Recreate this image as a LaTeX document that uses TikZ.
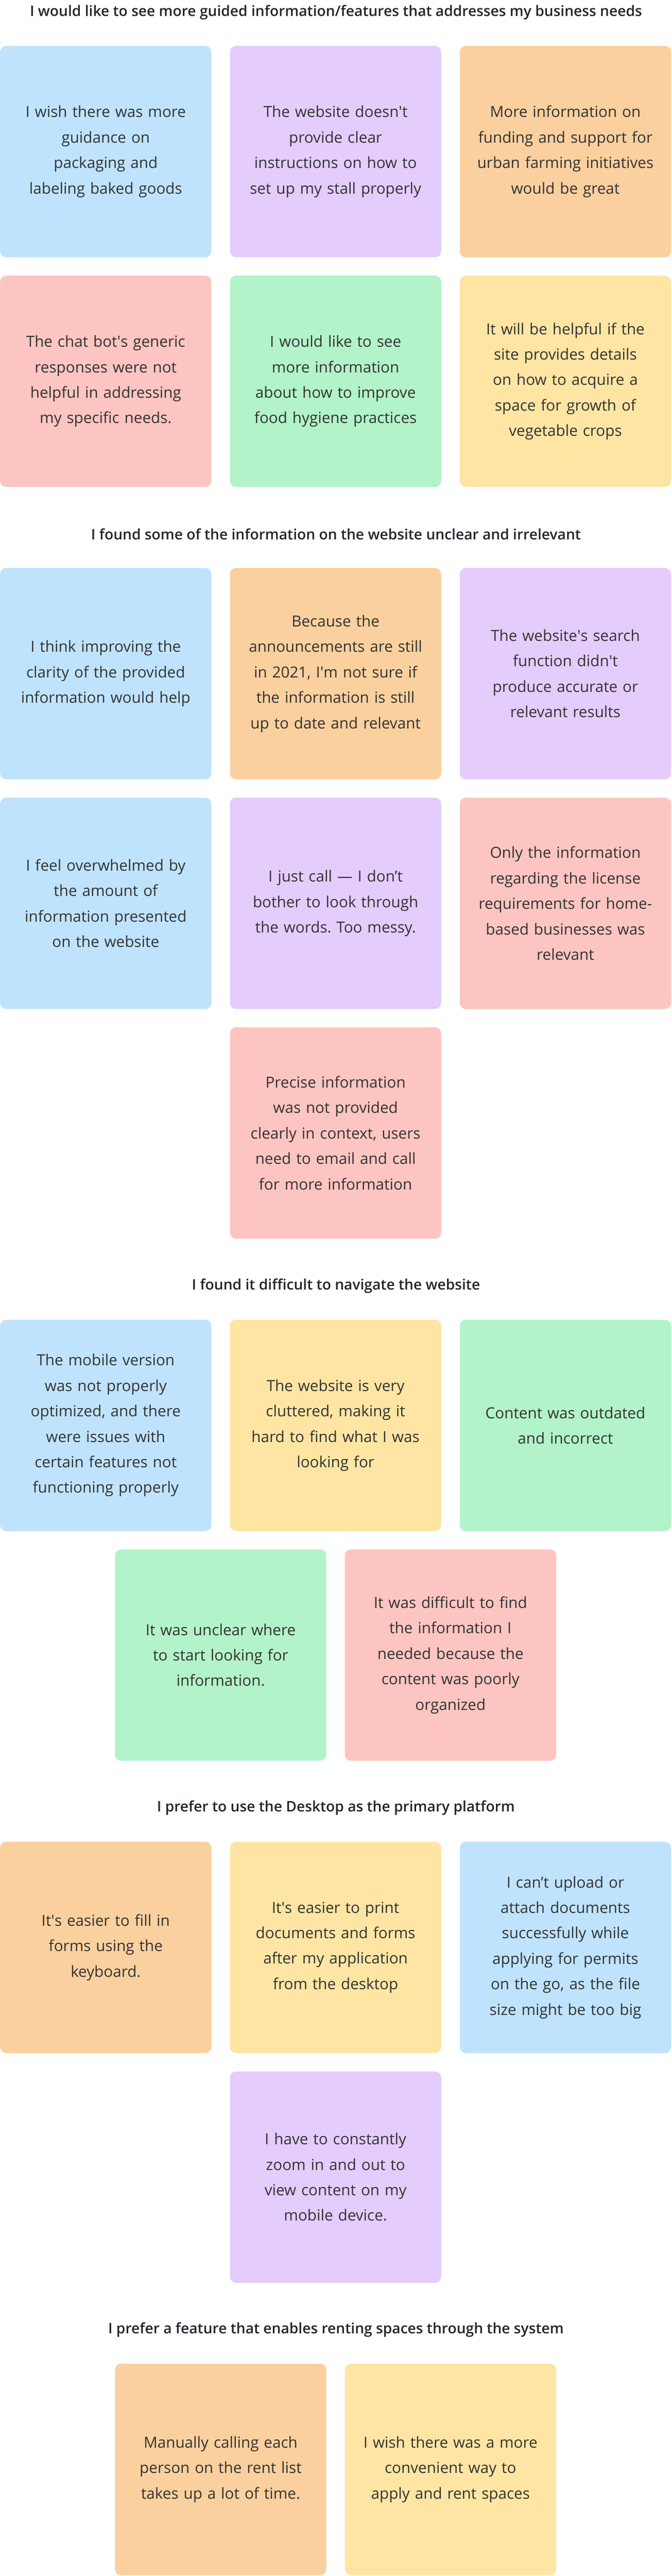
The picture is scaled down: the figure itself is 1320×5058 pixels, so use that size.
\documentclass[tikz,border=0pt]{standalone}
\usepackage{fontspec}
\setmainfont{Open Sans}
\IfFontExistsTF{Open Sans SemiBold}{\newfontfamily\headfont{Open Sans SemiBold}}{%
  \IfFontExistsTF{Open Sans Semibold}{\newfontfamily\headfont{Open Sans Semibold}}{%
    \newcommand\headfont{\bfseries}}}
\newcommand\sq{\textquotesingle}
\frenchspacing
\definecolor{cblue}{HTML}{BFE3FD}
\definecolor{cpurple}{HTML}{E4CCFD}
\definecolor{corange}{HTML}{FAD09E}
\definecolor{cpink}{HTML}{FDC5C1}
\definecolor{cgreen}{HTML}{B2F3C9}
\definecolor{cyellow}{HTML}{FEE5A3}
\definecolor{ctext}{HTML}{333333}
\definecolor{chead}{HTML}{22252B}
\tikzset{
  card/.style={draw=none, rounded corners=12pt, anchor=north west,
    minimum width=415pt, minimum height=415pt, inner sep=0pt,
    text width=380pt, align=center, text=ctext,
    font=\fontsize{30}{50}\selectfont},
  head/.style={anchor=center, inner sep=0pt, text=chead,
    font=\fontsize{28.5}{34}\selectfont\headfont}
}
\begin{document}
\begin{tikzpicture}[x=1pt,y=-1pt]
\useasboundingbox (0,0) rectangle (1320,5058);
% column positions
\def\ca{0}\def\cb{451.5}\def\cc{903}
\def\da{225.75}\def\db{677.25}
% Section 1
\node[head] (h1) at (660,24) {I would like to see more guided information/features that addresses my business needs};
\node[card, fill=cblue] (s1a) at (\ca,90) {I wish there was more\\guidance on\\packaging and\\labeling baked goods};
\node[card, fill=cpurple] (s1b) at (\cb,90) {The website doesn\sq t\\provide clear\\instructions on how to\\set up my stall properly};
\node[card, fill=corange] (s1c) at (\cc,90) {More information on\\funding and support for\\urban farming initiatives\\would be great};
\node[card, fill=cpink] (s1d) at (\ca,541) {The chat bot\sq s generic\\responses were not\\helpful in addressing\\my specific needs.};
\node[card, fill=cgreen] (s1e) at (\cb,541) {I would like to see\\more information\\about how to improve\\food hygiene practices};
\node[card, fill=cyellow] (s1f) at (\cc,541) {It will be helpful if the\\site provides details\\on how to acquire a\\space for growth of\\vegetable crops};
% Section 2
\node[head] (h2) at (660,1049) {I found some of the information on the website unclear and irrelevant};
\node[card, fill=cblue] (s2a) at (\ca,1115) {I think improving the\\clarity of the provided\\information would help};
\node[card, fill=corange] (s2b) at (\cb,1115) {Because the\\announcements are still\\in 2021, I\sq m not sure if\\the information is still\\up to date and relevant};
\node[card, fill=cpurple] (s2c) at (\cc,1115) {The website\sq s search\\function didn\sq t\\produce accurate or\\relevant results};
\node[card, fill=cblue] (s2d) at (\ca,1566) {I feel overwhelmed by\\the amount of\\information presented\\on the website};
\node[card, fill=cpurple] (s2e) at (\cb,1566) {I just call — I don’t\\bother to look through\\the words. Too messy.};
\node[card, fill=cpink] (s2f) at (\cc,1566) {Only the information\\regarding the license\\requirements for home-\\based businesses was\\relevant};
\node[card, fill=cpink] (s2g) at (\cb,2017) {Precise information\\was not provided\\clearly in context, users\\need to email and call\\for more information};
% Section 3
\node[head] (h3) at (660,2525) {I found it difficult to navigate the website};
\node[card, fill=cblue] (s3a) at (\ca,2591) {The mobile version\\was not properly\\optimized, and there\\were issues with\\certain features not\\functioning properly};
\node[card, fill=cyellow] (s3b) at (\cb,2591) {The website is very\\cluttered, making it\\hard to find what I was\\looking for};
\node[card, fill=cgreen] (s3c) at (\cc,2591) {Content was outdated\\and incorrect};
\node[card, fill=cgreen] (s3d) at (\da,3042) {It was unclear where\\to start looking for\\information.};
\node[card, fill=cpink] (s3e) at (\db,3042) {It was difficult to find\\the information I\\needed because the\\content was poorly\\organized};
% Section 4
\node[head] (h4) at (660,3550) {I prefer to use the Desktop as the primary platform};
\node[card, fill=corange] (s4a) at (\ca,3616) {It\sq s easier to fill in\\forms using the\\keyboard.};
\node[card, fill=cyellow] (s4b) at (\cb,3616) {It\sq s easier to print\\documents and forms\\after my application\\from the desktop};
\node[card, fill=cblue] (s4c) at (\cc,3616) {I can’t upload or\\attach documents\\successfully while\\applying for permits\\on the go, as the file\\size might be too big};
\node[card, fill=cpurple] (s4d) at (\cb,4067) {I have to constantly\\zoom in and out to\\view content on my\\mobile device.};
% Section 5
\node[head] (h5) at (660,4575) {I prefer a feature that enables renting spaces through the system};
\node[card, fill=corange] (s5a) at (\da,4641) {Manually calling each\\person on the rent list\\takes up a lot of time.};
\node[card, fill=cyellow] (s5b) at (\db,4641) {I wish there was a more\\convenient way to\\apply and rent spaces};
\end{tikzpicture}
\end{document}
